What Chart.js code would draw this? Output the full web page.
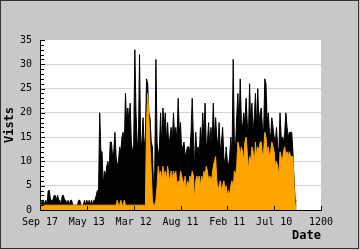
<!DOCTYPE html>
<html>
<head>
<meta charset="utf-8">
<script src="https://cdn.jsdelivr.net/npm/chart.js@4"></script>
<style>
  html, body { margin: 0; padding: 0; background: #c8c8c8; }
  canvas { display: block; }
</style>
</head>
<body>
<canvas id="chart" width="360" height="250"></canvas>
<script>
const tickLabels = ['Sep 17', 'May 13', 'Mar 12', 'Aug 11', 'Feb 11', 'Jul 10', '1200'];
const dayStep = 5;

// black series (all visits), one value every 5 days
const visits = [
  2, 1, 2, 2, 1, 2, 1, 4, 4, 2, 2, 2, 3, 3, 2, 3, 2, 2, 1, 3, 3, 2, 2, 1, 2, 1, 2, 2, 1, 1, 1, 1, 1, 2, 2, 1, 1, 1,
  2, 1, 2, 1, 2, 1, 2, 1, 2, 2, 3, 4, 4, 20, 12, 12, 5, 8, 7, 9, 10, 8, 14, 14, 11, 12, 16, 11, 9, 10, 13, 12, 15, 16, 13, 24, 18, 21,
  18, 22, 14, 12, 13, 33, 20, 14, 13, 32, 13, 14, 19, 13, 15, 27, 26, 20, 19, 14, 13, 4, 8, 31, 14, 11, 13, 20, 13, 21, 17, 20, 14, 18, 13, 15, 17, 14,
  20, 15, 17, 14, 23, 16, 18, 12, 13, 14, 11, 12, 13, 13, 12, 16, 23, 15, 9, 16, 12, 13, 11, 17, 14, 20, 15, 22, 13, 14, 18, 13, 17, 14, 22, 15, 19,
  15, 13, 18, 12, 14, 17, 11, 9, 13, 10, 9, 11, 15, 11, 31, 14, 13, 19, 24, 17, 27, 18, 17, 20, 18, 23, 18, 15, 26, 17, 22, 16, 19, 24, 17, 25, 18, 20,
  21, 17, 16, 27, 26, 18, 20, 16, 15, 19, 17, 15, 14, 17, 13, 12, 20, 15, 15, 14, 16, 20, 17, 15, 16, 16, 16, 12, 6, 2, 2
];

// orange series (unique visitors)
const uniques = [
  1, 1, 1, 1, 1, 1, 1, 1, 1, 1, 1, 1, 1, 1, 1, 1, 1, 1, 1, 1, 1, 1, 1, 1, 1, 1, 1, 1, 1, 1, 1, 1, 1, 1, 1, 1, 1, 1,
  1, 1, 1, 1, 1, 1, 1, 1, 1, 1, 1, 1, 1, 1, 1, 1, 1, 1, 1, 1, 1, 1, 1, 1, 1, 1, 1, 1, 2, 1, 1, 2, 1, 1, 2, 1, 1, 1,
  1, 1, 1, 1, 1, 1, 1, 1, 1, 1, 1, 1, 1, 1, 1, 18, 24, 19, 13, 8, 2, 1, 1, 2, 5, 9, 7, 8, 6, 9, 7, 8, 6, 9, 7, 6, 8, 6,
  8, 7, 8, 5, 6, 5, 8, 7, 6, 5, 7, 4, 6, 5, 7, 6, 8, 7, 2, 6, 7, 6, 7, 5, 7, 6, 8, 7, 9, 8, 6, 7, 6, 7, 9, 10, 11,
  6, 4, 5, 6, 4, 5, 6, 4, 5, 3, 4, 3, 5, 6, 4, 8, 7, 9, 14, 13, 11, 13, 12, 10, 14, 15, 12, 8, 11, 10, 13, 12, 9, 14, 11, 13, 12, 14,
  14, 11, 12, 16, 15, 12, 13, 11, 12, 14, 13, 12, 9, 10, 9, 7, 12, 11, 10, 12, 13, 11, 12, 11, 12, 11, 11, 11, 5, 1, 1
];

const days = visits.map((_, i) => i * dayStep);

Chart.defaults.font.family = "'DejaVu Sans Mono', monospace";
Chart.defaults.font.size = 10;
Chart.defaults.color = '#000';

const frame = {
  id: 'frame',
  beforeDraw(chart) {
    const { ctx, chartArea: a } = chart;
    ctx.save();
    ctx.fillStyle = '#fff';
    ctx.fillRect(a.left, a.top, a.right - a.left, a.bottom - a.top);
    ctx.strokeStyle = '#333';
    ctx.lineWidth = 1;
    ctx.strokeRect(0.5, 0.5, 358, 248);
    ctx.restore();
  },
  afterDraw(chart) {
    // tick marks point into the plot
    const { ctx, scales: { x, y } } = chart;
    ctx.save();
    ctx.strokeStyle = '#000';
    ctx.lineWidth = 1;
    ctx.beginPath();
    y.ticks.forEach((t) => {
      const py = Math.round(y.getPixelForValue(t.value)) + 0.5;
      const len = t.value % 5 === 0 ? 5 : 4;
      ctx.moveTo(y.right, py);
      ctx.lineTo(y.right + len, py);
    });
    x.ticks.forEach((t) => {
      const px = Math.round(x.getPixelForValue(t.value)) + 0.5;
      ctx.moveTo(px, x.top);
      ctx.lineTo(px, x.top - 4);
    });
    ctx.stroke();
    ctx.restore();
  },
};

new Chart(document.getElementById('chart'), {
  type: 'line',
  data: {
    datasets: [
      {
        data: uniques.map((v, i) => ({ x: days[i], y: v })),
        borderColor: '#ffa500',
        backgroundColor: '#ffa500',
        fill: 'origin',
        order: 0,
      },
      {
        data: visits.map((v, i) => ({ x: days[i], y: v })),
        borderColor: '#000',
        backgroundColor: '#000',
        fill: 'origin',
        order: 1,
      },
    ],
  },
  options: {
    responsive: false,
    animation: false,
    layout: { padding: { left: 0, top: 40, right: 39, bottom: 0 } },
    elements: {
      line: { tension: 0, borderWidth: 1 },
      point: { radius: 0 },
    },
    plugins: { legend: { display: false }, tooltip: { enabled: false } },
    scales: {
      x: {
        type: 'linear',
        min: 0,
        max: 1200,
        afterFit: (s) => { s.height = 40; },
        border: { color: '#000' },
        grid: { display: false },
        ticks: { stepSize: 200, padding: -2, autoSkip: false, maxRotation: 0, callback: (v) => tickLabels[v / 200] },
        title: { display: true, text: 'Date', align: 'end', font: { weight: 'bold', size: 12 }, padding: { top: 0, bottom: 7 } },
      },
      y: {
        min: 0,
        max: 35,
        afterFit: (s) => { s.width = 40; },
        border: { color: '#000' },
        grid: {
          drawTicks: false,
          color: (c) => (c.tick.value % 5 === 0 && c.tick.value > 0 && c.tick.value < 35 ? '#d4d4d4' : 'rgba(0,0,0,0)'),
        },
        ticks: { stepSize: 1, autoSkip: false, padding: 8, callback: (v) => (v % 5 === 0 ? v : '') },
        title: { display: true, text: 'Vists', font: { weight: 'bold', size: 12 }, padding: { top: 3, bottom: 0 } },
      },
    },
  },
  plugins: [frame],
});
</script>
</body>
</html>
